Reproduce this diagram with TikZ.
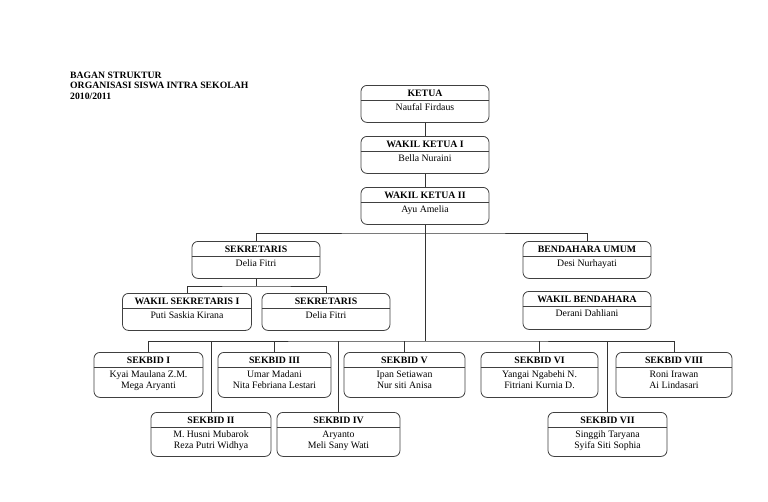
\documentclass[tikz,border=0pt]{standalone}
\usepackage{fontspec}
\setmainfont{Liberation Serif}
\begin{document}
\begin{tikzpicture}[x=1pt,y=-1pt,
  obox/.style={draw=black!75, line width=0.8pt, rounded corners=6pt, inner sep=0pt, fill=white},
  divline/.style={draw=black!75, line width=0.8pt},
  hdr/.style={font={\fontsize{9.8}{11}\selectfont\bfseries}, inner sep=0pt},
  nm/.style={font={\fontsize{9.8}{11}\selectfont}, inner sep=0pt, align=center},
  conn/.style={draw=black!80, line width=0.8pt},
  ttl/.style={font={\fontsize{9.7}{10.5}\selectfont\bfseries}, inner sep=0pt, align=left}]
\newcommand\obox[7]{%
  \node[obox, minimum width=#4pt, minimum height=#5pt, anchor=north] (#1) at (#2,#3) {};
  \draw[divline] ([yshift=-15pt]#1.north west) -- ([yshift=-15pt]#1.north east);
  \node[hdr] (#1h) at ([yshift=-8pt]#1.north) {#6};
  \node[nm, anchor=north] (#1n) at ([yshift=-18.5pt]#1.north) {#7};
}
\useasboundingbox[fill=white] (0,0) rectangle (768,501);

\node[ttl, anchor=north west] (title) at (70,71.5) {BAGAN STRUKTUR\\ORGANISASI SISWA INTRA SEKOLAH\\2010/2011};

\obox{ketua}{425}{85}{128}{37}{KETUA}{Naufal Firdaus}
\obox{wk1}{425}{136}{128}{37}{WAKIL KETUA I}{Bella Nuraini}
\obox{wk2}{425}{187}{128}{37}{WAKIL KETUA II}{Ayu Amelia}

\obox{sek}{256}{241}{128}{37}{SEKRETARIS}{Delia Fitri}
\obox{bend}{587}{241}{128}{37}{BENDAHARA UMUM}{Desi Nurhayati}
\obox{wbend}{587}{291}{128}{38}{WAKIL BENDAHARA}{Derani Dahliani}
\obox{wsek}{187}{293}{129}{37}{WAKIL SEKRETARIS I}{Puti Saskia Kirana}
\obox{sekb}{326}{293}{128}{37}{SEKRETARIS}{Delia Fitri}

\obox{sa}{148.5}{352}{109}{45}{SEKBID I}{Kyai Maulana Z.M.\\Mega Aryanti}
\obox{sc}{274.5}{352}{113}{45}{SEKBID III}{Umar Madani\\Nita Febriana Lestari}
\obox{se}{404.5}{352}{121}{45}{SEKBID V}{Ipan Setiawan\\Nur siti Anisa}
\obox{sf}{539.5}{352}{117}{45}{SEKBID VI}{Yangai Ngabehi N.\\Fitriani Kurnia D.}
\obox{sh}{674}{352}{116}{45}{SEKBID VIII}{Roni Irawan\\Ai Lindasari}
\obox{sb}{211}{412}{120}{44}{SEKBID II}{M. Husni Mubarok\\Reza Putri Widhya}
\obox{sd}{338.5}{412}{123}{44}{SEKBID IV}{Aryanto\\Meli Sany Wati}
\obox{sg}{607.5}{412}{119}{44}{SEKBID VII}{Singgih Taryana\\Syifa Siti Sophia}

\coordinate (j1) at (425,233);
\coordinate (j2) at (425,341);
\coordinate (j3) at (256,286);

\draw[conn] (ketua.south) -- (wk1.north);
\draw[conn] (wk1.south) -- (wk2.north);
\draw[conn] (wk2.south) -- (j2);
\draw[conn] (sek.north) |- (j1) -| (bend.north);
\draw[conn] (sek.south) -- (j3);
\draw[conn] (wsek.north) |- (j3) -| (sekb.north);
\draw[conn] (sa.north) |- (j2) -| (sh.north);
\draw[conn] (sb.north) -- (sb.north |- j2);
\draw[conn] (sc.north) -- (sc.north |- j2);
\draw[conn] (sd.north) -- (sd.north |- j2);
\draw[conn] (se.north) -- (se.north |- j2);
\draw[conn] (sf.north) -- (sf.north |- j2);
\draw[conn] (sg.north) -- (sg.north |- j2);
\end{tikzpicture}
\end{document}
